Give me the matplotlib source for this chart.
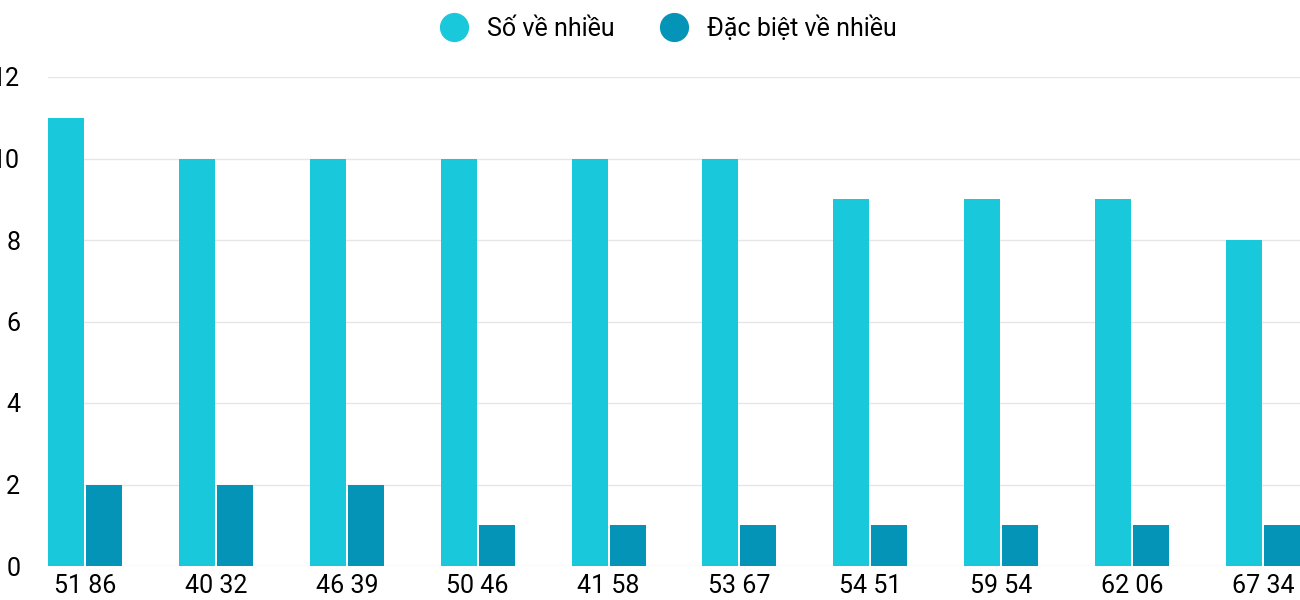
import matplotlib

matplotlib.use("Agg")
import matplotlib.pyplot as plt
import numpy as np
from matplotlib.lines import Line2D

categories = ["51 86", "40 32", "46 39", "50 46", "41 58", "53 67", "54 51", "59 54", "62 06", "67 34"]
so_ve_nhieu = [11, 10, 10, 10, 10, 10, 9, 9, 9, 8]
dac_biet = [2, 2, 2, 1, 1, 1, 1, 1, 1, 1]

C1 = "#1ac8db"
C2 = "#0494b8"

plt.rcParams["font.family"] = ["Roboto", "DejaVu Sans"]
fig = plt.figure(figsize=(13, 6), dpi=100)
ax = fig.add_axes([48 / 1300, 34 / 600, 1 - 48 / 1300, (566 - 77) / 600])

bw = 36 / 130.7
gap = 2 / 130.7
x = np.arange(len(categories))
ax.bar(x, so_ve_nhieu, width=bw, align="edge", color=C1, zorder=3)
ax.bar(x + bw + gap, dac_biet, width=bw, align="edge", color=C2, zorder=3)

ax.set_xlim(0, len(categories) - 1 + 2 * bw + gap)
ax.set_ylim(0, 12)
ax.set_yticks(range(0, 13, 2))
ax.set_xticks(x + bw + gap / 2)
ax.set_xticklabels(categories, fontsize=18)
ax.tick_params(axis="y", labelsize=18, length=0, pad=20)
ax.tick_params(axis="x", length=0, pad=6)
ax.grid(axis="y", color="#e6e6e6", linewidth=1, zorder=0)
for s in ax.spines.values():
    s.set_visible(False)

handles = [
    Line2D([], [], marker="o", linestyle="", markersize=20, color=C1, label="Số về nhiều"),
    Line2D([], [], marker="o", linestyle="", markersize=20, color=C2, label="Đặc biệt về nhiều"),
]
fig.legend(handles=handles, loc="center", bbox_to_anchor=(0.51, 0.953), ncol=2,
           frameon=False, fontsize=18, handletextpad=0.3, columnspacing=1.4)

fig.savefig("out.png", dpi=100)
